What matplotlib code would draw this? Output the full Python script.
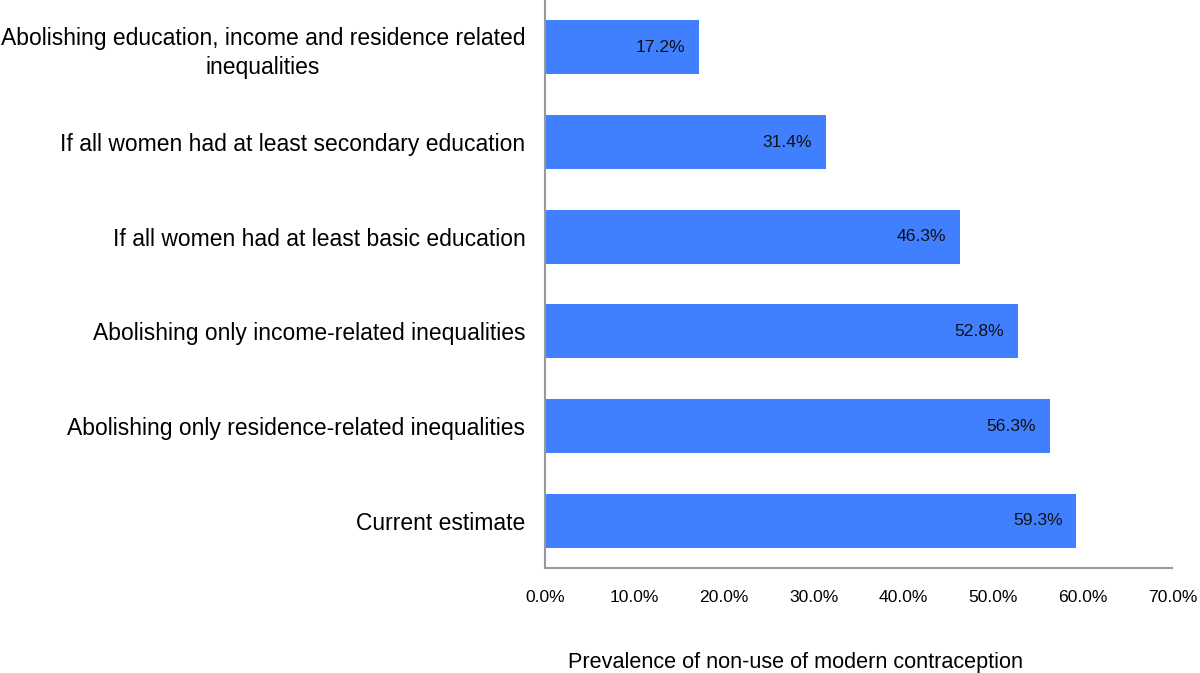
import matplotlib
matplotlib.use("Agg")
import matplotlib.pyplot as plt

plt.rcParams['font.family'] = ['Liberation Sans', 'DejaVu Sans']

# scenarios, bottom to top as drawn
categories = [
    "Current estimate",
    "Abolishing only residence-related inequalities",
    "Abolishing only income-related inequalities",
    "If all women had at least basic education",
    "If all women had at least secondary education",
    "Abolishing education, income and residence related\ninequalities",
]
values = [59.3, 56.3, 52.8, 46.3, 31.4, 17.2]
ticks = [0, 10, 20, 30, 40, 50, 60, 70]

fig = plt.figure(figsize=(12, 6.73), dpi=100)
ax = fig.add_axes([0.454, 0.156, 0.523, 0.844])

pos = list(range(len(categories)))
ax.barh(pos, values, height=0.57, color="#4080FF", zorder=2)

for p, v in zip(pos, values):
    ax.annotate("%.1f%%" % v, xy=(v, p), xytext=(-14, 0), textcoords="offset pixels",
                ha="right", va="center", fontsize=12.6, color="#111111")

ax.set_xlim(0, 70)
ax.set_ylim(-0.5, 5.5)
ax.set_yticks(pos)
ax.set_yticklabels(categories, fontsize=16.5, ha="right", multialignment="center",
                   linespacing=1.35)
ax.set_xticks(ticks)
ax.set_xticklabels(["%.1f%%" % t for t in ticks], fontsize=12.6)
ax.tick_params(axis="both", length=0)
ax.tick_params(axis="x", pad=16)
ax.tick_params(axis="y", pad=14)

for s in ["top", "right"]:
    ax.spines[s].set_visible(False)
for s in ["left", "bottom"]:
    ax.spines[s].set_color("#999999")
    ax.spines[s].set_linewidth(1.5)

ax.set_xlabel("Prevalence of non-use of modern contraception", fontsize=15.6, labelpad=34)
ax.xaxis.label.set_x(0.40)

fig.savefig("out.png", dpi=100)
